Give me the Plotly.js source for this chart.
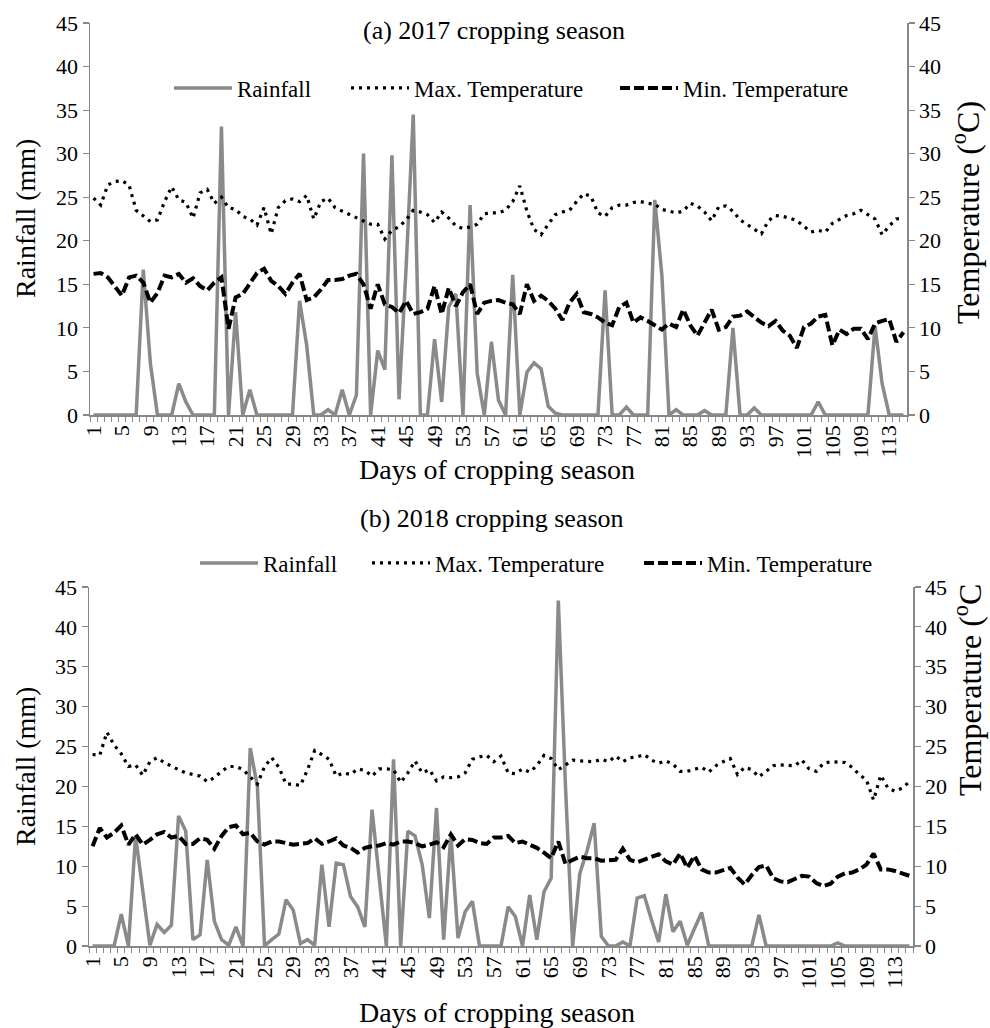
<!DOCTYPE html>
<html>
<head>
<meta charset="utf-8">
<script src="https://cdn.plot.ly/plotly-3.0.1.min.js"></script>
<style>html,body{margin:0;padding:0;background:#fff;}#chart{width:990px;height:1028px;}</style>
</head>
<body>
<div id="chart"></div>
<script>
// ---- data ----
const seriesNames = ["Rainfall", "Max. Temperature", "Min. Temperature"];
const panelTitles = ["(a) 2017 cropping season", "(b) 2018 cropping season"];
const xTickLabels = [1,5,9,13,17,21,25,29,33,37,41,45,49,53,57,61,65,69,73,77,81,85,89,93,97,101,105,109,113];

const rain2017 = [0,0,0,0,0,0,0,16.7,5.9,0,0,0,3.6,1.5,0,0,0,0,33.1,0,
  11.8,0,2.9,0,0,0,0,0,0,13.1,8.0,0,0,0.6,0,2.9,0,2.3,30.0,0,
  7.4,5.2,29.8,1.8,17,34.5,0,0,8.7,1.5,12.4,13.9,0,24.1,4.8,0,8.4,1.7,0,16.1,
  0,4.9,6.0,5.3,1.0,0.2,0,0,0,0,0,0,14.3,0,0,0.9,0,0,0,24.7,
  16.0,0,0.6,0,0,0,0.5,0,0,0,10.0,0,0,0.8,0,0,0,0,0,0,
  0,0,1.5,0,0,0,0,0,0,0,10.2,3.6,0,0,0];
const maxT2017 = [24.9,24.1,26.4,26.8,26.9,26.4,23.5,22.8,22.2,22.4,24.5,26.2,24.7,24.4,22.6,25.5,25.9,24.3,25.0,23.8,
  23.6,22.8,22.5,21.8,23.8,20.8,23.8,24.6,24.8,24.5,25.2,22.5,24.5,24.9,23.8,23.4,23.0,22.6,22.3,21.9,
  21.9,20.2,21.2,21.6,22.4,23.5,23.3,23.0,22.1,23.3,22.6,21.7,21.4,21.6,21.9,23.1,23.2,23.2,23.5,24.5,
  26.3,23.4,21.3,20.7,21.9,23.0,23.3,23.5,24.5,25.4,25.1,23.2,22.8,23.8,24.1,24.1,24.4,24.5,24.3,24.2,
  23.6,23.4,23.2,23.4,24.3,24.0,23.3,22.3,23.9,24.0,23.4,22.4,21.9,21.4,20.8,22.3,22.9,22.8,22.6,22.3,
  21.6,21.0,21.2,21.0,22.0,22.4,22.9,23.1,23.5,23.0,22.5,20.7,21.7,22.5,22.6];
const minT2017 = [16.2,16.3,15.8,14.8,13.7,15.8,16.0,15.2,12.9,14.0,16.0,15.8,16.2,15.2,15.7,14.8,14.3,15.2,15.8,9.9,
  13.5,13.9,15.1,16.3,16.8,15.4,14.8,13.9,15.2,16.2,13.2,13.5,14.4,15.5,15.5,15.6,16.0,16.2,15.0,12.2,
  15.0,12.7,12.4,11.7,13.1,11.6,11.8,12.2,14.8,11.6,14.6,12.5,14.1,15.0,11.6,12.9,13.1,13.2,12.9,12.7,
  11.6,15.0,13.1,13.7,13.1,12.2,10.9,12.9,13.9,11.8,11.6,11.2,10.6,10.3,12.4,12.9,10.6,11.2,10.8,10.3,
  9.8,10.5,10.1,12.1,10.3,9.1,10.5,12.1,9.8,10.1,11.3,11.4,11.9,11.2,10.6,10.2,10.8,9.7,9.1,7.7,
  10.1,10.5,11.3,11.5,8.0,9.8,9.3,9.9,9.9,8.7,10.5,10.8,11.0,8.4,9.5];

const rain2018 = [0,0,0,0,4.0,0,13.8,7.2,0.1,2.7,1.7,2.6,16.3,14.4,0.8,1.4,10.8,3.1,0.8,0.1,
  2.4,0,24.8,20.0,0,0.8,1.5,5.8,4.5,0.3,0.8,0.1,10.2,2.4,10.4,10.2,6.2,4.9,2.4,17.1,
  8.5,0,23.4,0,14.4,13.8,10.2,3.5,17.3,0.8,14.0,1.0,4.3,5.6,0,0,0,0,4.9,3.7,
  0,6.4,0.8,6.8,8.5,43.3,20.0,0,9.1,11.9,15.4,1.2,0,0,0.5,0,6.0,6.3,3.3,0.5,
  6.5,1.8,3.1,0.1,2.2,4.2,0,0,0,0,0,0,0,3.9,0,0,0,0,0,0,
  0,0,0,0,0.4,0,0,0,0,0,0,0,0,0,0];
const maxT2018 = [24.0,23.9,26.8,25.2,24.1,22.5,22.7,21.4,23.1,23.6,23.0,22.5,22.1,21.7,21.5,21.3,20.6,21.1,21.9,22.5,
  22.5,22.1,21.2,20.3,22.5,23.6,22.4,20.3,20.3,20.1,22.1,24.5,24.0,23.4,21.3,21.7,21.5,22.2,22.0,21.3,
  22.2,22.2,22.1,20.5,21.7,23.2,21.7,22.1,20.7,21.2,21.1,21.2,21.7,23.4,23.7,23.9,23.1,23.8,21.7,21.6,
  22.2,21.8,22.6,23.9,23.5,22.1,22.7,23.3,23.2,23.2,23.1,23.4,23.1,23.8,23.1,23.6,23.7,24.0,23.3,22.9,
  23.2,22.8,21.9,21.9,22.2,22.4,21.8,22.6,23.1,23.5,21.5,22.4,22.1,21.2,21.9,22.6,22.7,22.7,22.6,23.3,
  22.2,21.9,22.9,23.1,23.1,23.0,22.4,21.5,20.8,18.3,21.4,19.8,19.4,19.8,20.6];
const minT2018 = [12.5,14.8,13.6,14.2,15.1,12.7,14.0,12.7,13.3,14.0,14.3,13.6,13.8,12.8,12.8,13.5,13.3,12.2,13.8,14.9,
  15.1,14.0,14.2,13.1,12.7,13.1,13.1,12.9,12.7,12.8,12.9,13.5,12.8,13.1,13.5,12.6,12.3,11.7,12.3,12.5,
  12.6,12.9,12.7,13.1,13.1,12.9,12.5,12.7,13.0,12.4,14.0,12.6,13.4,13.3,12.9,12.8,13.6,13.6,13.8,12.9,
  13.1,12.7,12.3,11.7,11.0,13.1,10.3,10.8,11.2,11.0,11.0,10.7,10.7,10.8,12.2,10.8,10.5,10.8,11.2,11.5,
  10.6,10.2,11.6,9.8,11.3,9.6,9.2,9.2,9.5,9.8,8.6,7.7,8.9,9.9,10.1,8.5,8.1,8.0,8.4,8.8,
  8.7,7.9,7.5,7.8,8.7,9.1,9.2,9.6,10.2,11.6,9.6,9.6,9.4,9.1,8.8];

// ---- build ----
const days = rain2017.map((_, i) => i + 1);
const W = 990, H = 1028;
const px = x => x / W;
const py = y => 1 - y / H;

const FONT = "Liberation Serif";
const GREY = "#8a8a8a";
const AXC = "#888888";

function mkTraces(rain, tmax, tmin, xa, yl, yr, legs) {
  return [
    {x: days, y: rain, type: "scatter", mode: "lines", name: seriesNames[0],
     xaxis: xa, yaxis: yl, legend: legs[0],
     line: {color: GREY, width: 3.5}},
    {x: days, y: tmax, type: "scatter", mode: "lines", name: seriesNames[1],
     xaxis: xa, yaxis: yr, legend: legs[1],
     line: {color: "#000", width: 3.2, dash: "3px,5px"}},
    {x: days, y: tmin, type: "scatter", mode: "lines", name: seriesNames[2],
     xaxis: xa, yaxis: yr, legend: legs[2],
     line: {color: "#000", width: 4, dash: "10px,4px"}}
  ];
}

const data = [
  ...mkTraces(rain2017, maxT2017, minT2017, "x", "y", "y2", ["legend", "legend2", "legend3"]),
  ...mkTraces(rain2018, maxT2018, minT2018, "x2", "y3", "y4", ["legend4", "legend5", "legend6"])
];

function tickFont() { return {family: FONT, size: 22, color: "#000", weight: "normal", style: "normal"}; }

function xAxis(domain, anchor) {
  return {
    domain: domain, anchor: anchor, range: [0.5, 115.5], automargin: false,
    tickmode: "array", tickvals: xTickLabels, ticktext: xTickLabels.map(String),
    tickangle: -90, ticks: "", tickfont: tickFont(),
    showline: true, linecolor: AXC, linewidth: 1.5, showgrid: false, zeroline: false,
    minor: {tickmode: "linear", tick0: 0.5, dtick: 1, ticks: "outside", ticklen: 5, tickcolor: AXC, tickwidth: 1, showgrid: false}
  };
}
function yAxis(domain, anchor, side, overlay) {
  const a = {
    domain: domain, anchor: anchor, side: side, range: [0, 45], automargin: false,
    tickmode: "linear", tick0: 0, dtick: 5, ticks: "outside", ticklen: 6, tickcolor: AXC, tickwidth: 1.2,
    tickfont: tickFont(), showline: true, linecolor: AXC, linewidth: 1.5, showgrid: false, zeroline: false
  };
  if (overlay) a.overlaying = overlay;
  return a;
}

function leg(xpx, ypx) {
  return {x: px(xpx), y: py(ypx), xanchor: "left", yanchor: "middle", orientation: "h",
          font: {family: FONT, size: 23, color: "#000"}, bgcolor: "rgba(0,0,0,0)",
          borderwidth: 0, itemwidth: 58, itemclick: false, itemdoubleclick: false};
}

const topDomY = [py(415), py(23)];
const botDomY = [py(946), py(587)];

function ann(text, xpx, ypx, size, angle) {
  return {text: text, x: px(xpx), y: py(ypx), xref: "paper", yref: "paper",
          showarrow: false, xanchor: "center", yanchor: "middle", textangle: angle || 0,
          font: {family: FONT, size: size, color: "#000"}};
}

const layout = {
  width: W, height: H, margin: {l: 0, r: 0, t: 0, b: 0},
  paper_bgcolor: "#fff", plot_bgcolor: "#fff", showlegend: true,
  font: {family: FONT, size: 22, color: "#000"},
  xaxis: xAxis([px(90), px(907)], "y"),
  yaxis: yAxis(topDomY, "x", "left"),
  yaxis2: yAxis(topDomY, "x", "right", "y"),
  xaxis2: xAxis([px(89), px(913)], "y3"),
  yaxis3: yAxis(botDomY, "x2", "left"),
  yaxis4: yAxis(botDomY, "x2", "right", "y3"),
  legend: leg(169, 88), legend2: leg(346, 88), legend3: leg(615, 88),
  legend4: leg(195, 563), legend5: leg(367, 563), legend6: leg(639, 563),
  annotations: [
    ann(panelTitles[0], 494, 30, 26),
    ann(panelTitles[1], 492, 518, 26),
    ann("Rainfall (mm)", 25, 219, 28, -90),
    ann("Rainfall (mm)", 25, 767, 28, -90),
    ann("Temperature (<sup>o</sup>C)", 966, 213, 32, -90),
    ann("Temperature (<sup>o</sup>C", 968, 690, 32, -90),
    ann("Days of cropping season", 497, 470, 28),
    ann("Days of cropping season", 497, 1012, 28)
  ]
};

Plotly.newPlot("chart", data, layout, {displayModeBar: false, staticPlot: true});
</script>
</body>
</html>
